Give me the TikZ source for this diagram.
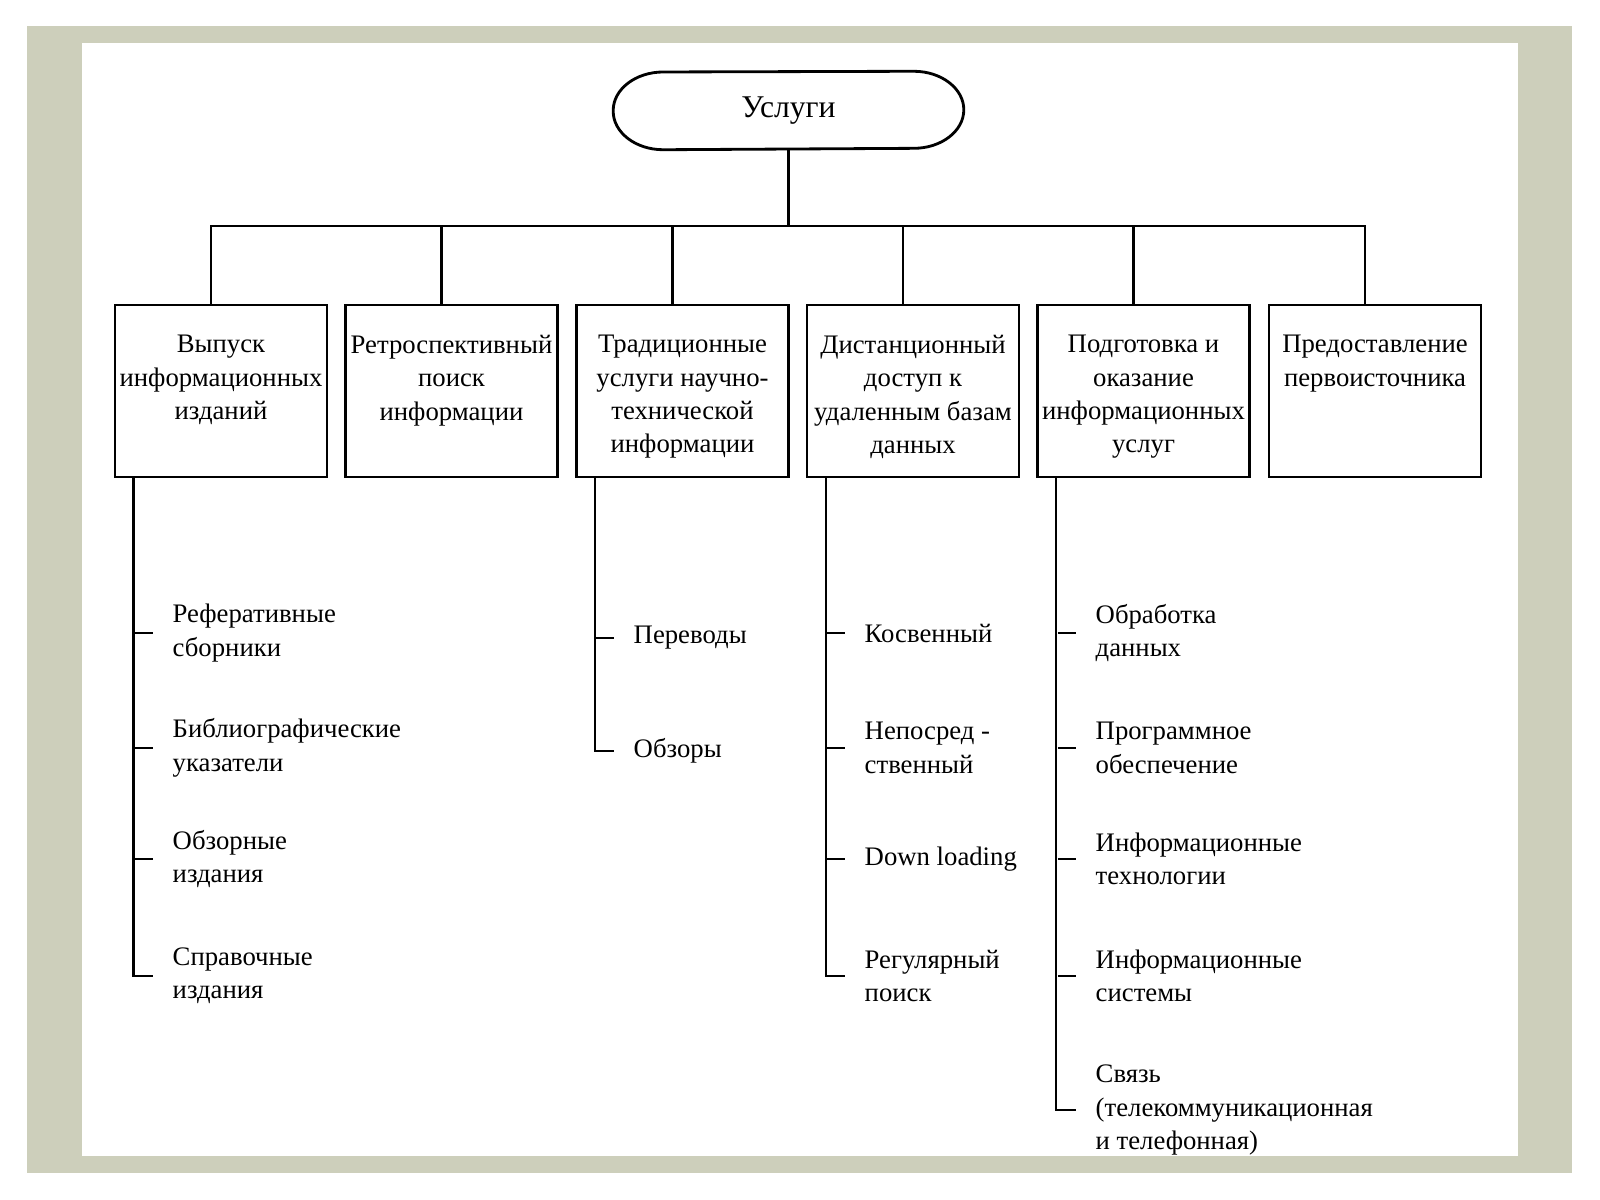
\documentclass[tikz,border=0pt]{standalone}
\usepackage{fontspec}
\setmainfont{Liberation Serif}
\definecolor{framegray}{RGB}{205,207,187}
\begin{document}
\begin{tikzpicture}
        [
            x=0.01cm, y=-0.01cm,
            root/.style={minimum width=3.49cm, minimum height=0.77cm, inner sep=0pt, font=\fontsize{9}{11}\selectfont},
            box/.style={draw, thick, minimum width=2.12cm, minimum height=1.72cm, inner sep=0pt},
            boxtext/.style={anchor=north, yshift=-0.31cm, inner sep=0pt, align=center, font=\fontsize{7.6}{9.5}\selectfont},
            item/.style={anchor=west, inner sep=0pt, align=left, font=\fontsize{7.6}{9.5}\selectfont},
            link/.style={semithick},
        ]
            \useasboundingbox (0,0) rectangle (1600,1200);
            \fill[white] (0,0) rectangle (1600,1200);
            \fill[framegray] (27,26) rectangle (1572,1173);
            \fill[white] (82,43) rectangle (1518,1156);

            \node[root] (U) at (788.5,110.5) {Услуги};
            \draw[thick, line join=round] (U.west)
                arc[start angle=180, end angle=90, x radius=0.5cm, y radius=0.385cm]
                -- ([xshift=-0.5cm]U.north east)
                arc[start angle=90, end angle=-90, x radius=0.5cm, y radius=0.385cm]
                -- ([xshift=0.5cm]U.south west)
                arc[start angle=270, end angle=180, x radius=0.5cm, y radius=0.385cm] -- cycle;
            \coordinate (bus) at (788.5,226);

            \node[box, label={[boxtext]north:{Выпуск\\информационных\\изданий}}] (B1) at (221,391) {};
            \node[box, label={[boxtext]north:{Ретроспективный\\поиск\\информации}}] (B2) at (451.5,391) {};
            \node[box, label={[boxtext]north:{Традиционные\\услуги научно-\\технической\\информации}}] (B3) at (682.5,391) {};
            \node[box, label={[boxtext]north:{Дистанционный\\доступ к\\удаленным базам\\данных}}] (B4) at (913,391) {};
            \node[box, label={[boxtext]north:{Подготовка и\\оказание\\информационных\\услуг}}] (B5) at (1143.5,391) {};
            \node[box, label={[boxtext]north:{Предоставление\\первоисточника}}] (B6) at (1375,391) {};

            \node[item] (S11) at (172,633) {Реферативные\\сборники};
            \node[item] (S12) at (172,748) {Библиографические\\указатели};
            \node[item] (S13) at (172,859) {Обзорные\\издания};
            \node[item] (S14) at (172,976) {Справочные\\издания};
            \node[item, yshift=-0.05cm] (S31) at (633,633) {Переводы};
            \node[item, yshift=-0.03cm] (S32) at (633,748) {Обзоры};
            \node[item] (S41) at (864,633) {Косвенный};
            \node[item] (S42) at (864,748) {Непосред -\\ственный};
            \node[item] (S43) at (864,859) {Down loading};
            \node[item] (S44) at (864,976) {Регулярный\\поиск};
            \node[item] (S51) at (1095,633) {Обработка\\данных};
            \node[item] (S52) at (1095,748) {Программное\\обеспечение};
            \node[item] (S53) at (1095,859) {Информационные\\технологии};
            \node[item] (S54) at (1095,976) {Информационные\\системы};
            \node[item] (S55) at (1095,1110) {Связь\\(телекоммуникационная\\и телефонная)};

            \draw[link] (U.south) -- (bus);
            \draw[link] ([xshift=-0.1cm]B1.north) |- (bus);
            \draw[link] ([xshift=-0.1cm]B2.north) |- (bus);
            \draw[link] ([xshift=-0.1cm]B3.north) |- (bus);
            \draw[link] ([xshift=-0.1cm]B4.north) |- (bus);
            \draw[link] ([xshift=-0.1cm]B5.north) |- (bus);
            \draw[link] ([xshift=-0.1cm]B6.north) |- (bus);

            \draw[link] ([xshift=0.2cm]B1.south west) |- ([xshift=-0.19cm]S14.west);
            \draw[link] ([xshift=-0.37cm]S11.west) -- ([xshift=-0.19cm]S11.west);
            \draw[link] ([xshift=-0.37cm]S12.west) -- ([xshift=-0.19cm]S12.west);
            \draw[link] ([xshift=-0.37cm]S13.west) -- ([xshift=-0.19cm]S13.west);

            \draw[link] ([xshift=0.2cm]B3.south west) |- ([xshift=-0.19cm]S32.west);
            \draw[link] ([xshift=-0.37cm]S31.west) -- ([xshift=-0.19cm]S31.west);

            \draw[link] ([xshift=0.2cm]B4.south west) |- ([xshift=-0.19cm]S44.west);
            \draw[link] ([xshift=-0.37cm]S41.west) -- ([xshift=-0.19cm]S41.west);
            \draw[link] ([xshift=-0.37cm]S42.west) -- ([xshift=-0.19cm]S42.west);
            \draw[link] ([xshift=-0.37cm]S43.west) -- ([xshift=-0.19cm]S43.west);

            \draw[link] ([xshift=0.2cm]B5.south west) |- ([xshift=-0.19cm]S55.west);
            \draw[link] ([xshift=-0.37cm]S51.west) -- ([xshift=-0.19cm]S51.west);
            \draw[link] ([xshift=-0.37cm]S52.west) -- ([xshift=-0.19cm]S52.west);
            \draw[link] ([xshift=-0.37cm]S53.west) -- ([xshift=-0.19cm]S53.west);
            \draw[link] ([xshift=-0.37cm]S54.west) -- ([xshift=-0.19cm]S54.west);
        \end{tikzpicture}
\end{document}
